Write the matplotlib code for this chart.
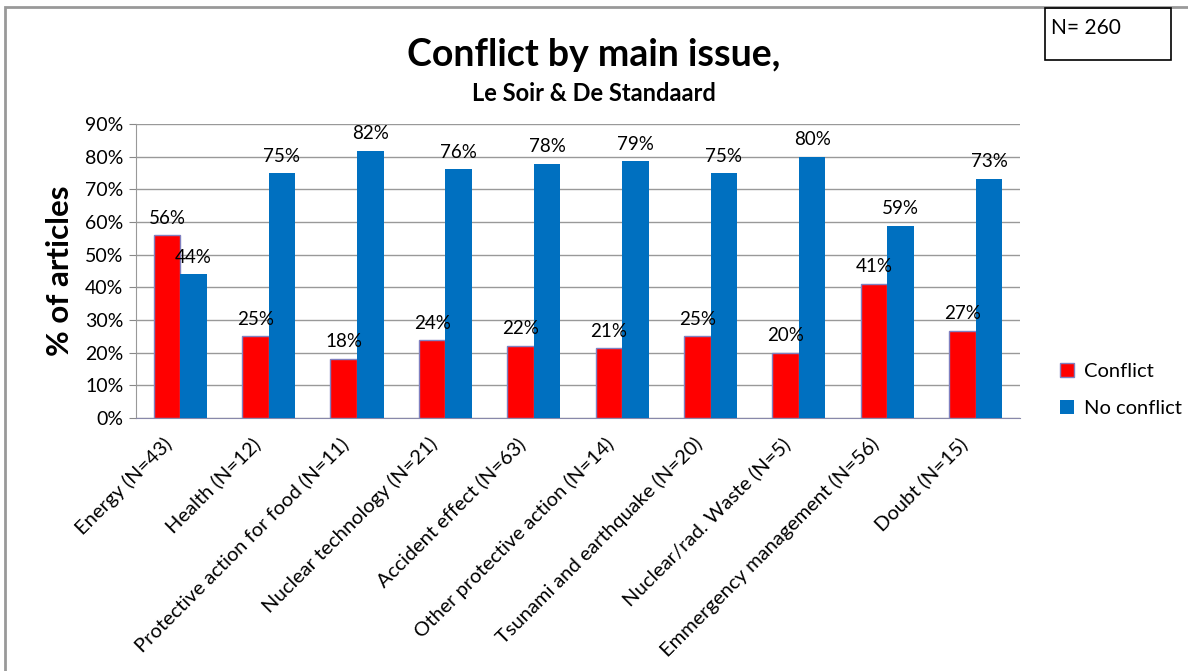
import numpy as np
import matplotlib
matplotlib.use('Agg')
import matplotlib.pyplot as plt
from matplotlib.patches import Rectangle

plt.rcParams['font.family'] = ['Lato', 'DejaVu Sans']

categories = ['Energy (N=43)', 'Health (N=12)', 'Protective action for food (N=11)',
              'Nuclear technology (N=21)', 'Accident effect (N=63)',
              'Other protective action (N=14)', 'Tsunami and earthquake (N=20)',
              'Nuclear/rad. Waste (N=5)', 'Emmergency management (N=56)', 'Doubt (N=15)']
conflict = [56.0, 25.0, 18.2, 23.8, 22.2, 21.4, 25.0, 20.0, 41.1, 26.7]
no_conflict = [44.0, 75.0, 81.8, 76.2, 77.8, 78.6, 75.0, 80.0, 58.9, 73.3]
conflict_labels = ['56%', '25%', '18%', '24%', '22%', '21%', '25%', '20%', '41%', '27%']
no_conflict_labels = ['44%', '75%', '82%', '76%', '78%', '79%', '75%', '80%', '59%', '73%']
yticks = [0, 10, 20, 30, 40, 50, 60, 70, 80, 90]

red = '#FF0000'
blue = '#0070C0'

fig = plt.figure(figsize=(11.88, 6.71), dpi=100)
ax = fig.add_axes([0.1145, 0.377, 0.744, 0.438])

x = np.arange(len(categories))
w = 0.3
ax.bar(x - w / 2, conflict, w, color=red, edgecolor='#8080C0', linewidth=1, label='Conflict', zorder=3)
ax.bar(x + w / 2, no_conflict, w, color=blue, label='No conflict', zorder=3)

for i in range(len(x)):
    ax.text(x[i] - w / 2, conflict[i] + 2.6, conflict_labels[i], ha='center', va='bottom', fontsize=13.5, zorder=4)
    ax.text(x[i] + w / 2, no_conflict[i] + 2.6, no_conflict_labels[i], ha='center', va='bottom', fontsize=13.5, zorder=4)

ax.set_xlim(-0.5, len(categories) - 0.5)
ax.set_ylim(0, 90)
ax.set_yticks(yticks)
ax.set_yticklabels([str(t) + '%' for t in yticks], fontsize=14)
# labels sit a little left of the group centre, as in the original
ax.set_xticks(x - 0.2)
ax.set_xticklabels(categories, rotation=45, ha='right', rotation_mode='anchor', fontsize=14.5)
ax.tick_params(axis='x', length=0, pad=12)
ax.tick_params(axis='y', length=5, color='#888888', pad=4)
ax.grid(axis='y', color='#999999', linewidth=1, zorder=0)
for s in ['top', 'right']:
    ax.spines[s].set_visible(False)
ax.spines['left'].set_color('#999999')
ax.spines['bottom'].set_color('#8888AA')
ax.set_ylabel('% of articles', fontsize=22.5, fontweight='bold', labelpad=8)

fig.text(0.500, 0.918, 'Conflict by main issue,', ha='center', va='center', fontsize=27, fontweight='bold')
fig.text(0.500, 0.860, 'Le Soir & De Standaard', ha='center', va='center', fontsize=17, fontweight='bold')

ax.legend(loc='center left', bbox_to_anchor=(1.025, 0.095), frameon=False, fontsize=14.5,
          handlelength=0.7, handleheight=0.7, labelspacing=1.0, handletextpad=0.5)

# outer frame
fig.add_artist(Rectangle((0.004, -0.01), 1.2, 1.0, transform=fig.transFigure, fill=False,
                         edgecolor='#999999', linewidth=2))
# N box
fig.add_artist(Rectangle((0.880, 0.911), 0.106, 0.077, transform=fig.transFigure, fill=False,
                         edgecolor='black', linewidth=1.2))
fig.text(0.885, 0.958, 'N= 260', ha='left', va='center', fontsize=15)

plt.savefig('out.png', dpi=100)
